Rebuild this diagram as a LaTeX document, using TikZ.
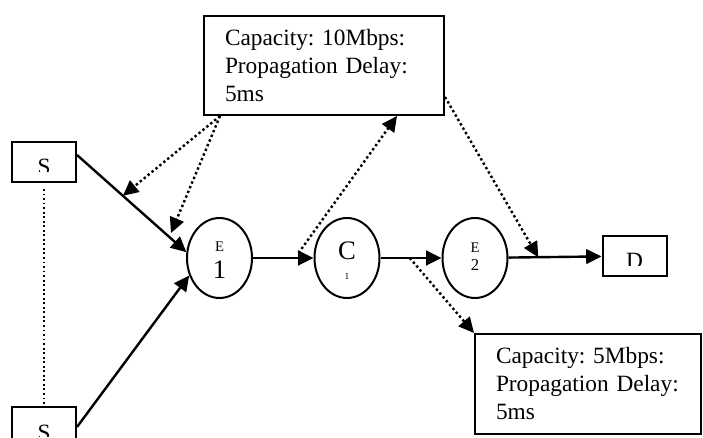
\documentclass[tikz,border=0pt]{standalone}
\usepackage{fontspec}
\setmainfont{Liberation Serif}
\frenchspacing
\usetikzlibrary{arrows.meta, shapes.geometric, calc}

\tikzset{
  hop/.style={draw, ellipse, line width=1.5pt, minimum width=48.75pt, minimum height=60pt, inner sep=0pt},
  endbox/.style={draw, line width=1.5pt, minimum width=48pt, minimum height=30pt, inner sep=0pt,
    path picture={
      \clip ([yshift=7.9pt]path picture bounding box.south west) rectangle (path picture bounding box.north east);
      \node[anchor=base, inner sep=0pt, font=\fontsize{17.5}{21}\selectfont]
        at ([yshift=5.25pt]path picture bounding box.south) {#1};
    }},
  infobox/.style={draw, line width=1.5pt, anchor=north west, align=left, inner xsep=15.75pt,
    font=\fontsize{17.5}{21}\selectfont},
  link/.style={line width=1.8pt, -{Triangle[length=11.5pt, width=11pt]}},
  note/.style={line width=1.8pt, dotted, -{Triangle[length=11.5pt, width=11pt]}}
}

\begin{document}
\begin{tikzpicture}[x=0.75pt, y=-0.75pt]
  \useasboundingbox (0,0) rectangle (703,438);
  \clip (0,0) rectangle (703,438);

  % sources and destination
  \node[endbox=S] (s1) at (44,162) {};
  \node[endbox=S] (s2) at (44,427) {};
  \node[endbox=D] (d) at (634.5,256) {};
  \draw[dotted, line width=1.4pt] ([yshift=-4.5pt]s1.south) -- (s2.north);

  % edge and core routers
  \node[hop] (e1) at (219.5,258) {};
  \node[hop] (c1) at (347,258) {};
  \node[hop] (e2) at (475,258) {};
  \node[font=\fontsize{11}{13}\selectfont] at ($(e1)+(0,-11)$) {E};
  \node[font=\fontsize{20}{22}\selectfont] at ($(e1)+(0,12)$) {1};
  \node[font=\fontsize{20}{22}\selectfont] at ($(c1)+(0,-7)$) {C};
  \node[font=\fontsize{7}{8}\selectfont] at ($(c1)+(0,18)$) {1};
  \node[font=\fontsize{11}{13}\selectfont] at ($(e2)+(0,-10)$) {E};
  \node[font=\fontsize{12.5}{15}\selectfont] at ($(e2)+(0,7)$) {2};

  % link parameters
  \node[infobox, text width=148.5pt, minimum height=74.25pt] (link1) at (203,15)
    {Capacity: 10Mbps:\\Propagation Delay:\\5ms};
  \node[infobox, text width=138pt, minimum height=75pt] (link2) at (474,333)
    {Capacity: 5Mbps:\\Propagation Delay:\\5ms};

  % solid links
  \draw[link] (s1.12) -- (e1.170);
  \draw[link] (s2.east) -- (e1.210);
  \draw[link] (e1) -- (c1);
  \draw[link] (c1) -- (e2);
  \draw[link] (e2) -- (d);

  % dotted pointers
  \path (s1.12) -- (e1.170) coordinate[pos=0.42] (on1);
  \path (e2.east) -- (d.west) coordinate[pos=0.32] (on2);
  \path (c1.east) -- (e2.west) coordinate[pos=0.48] (on3);
  \coordinate (from1) at ([xshift=12.75pt]link1.south west);
  \coordinate (near1) at ([shift={(-15,-25)}]e1.west);
  \coordinate (c1left) at ([shift={(-15,-5)}]c1.west);
  \coordinate (to1) at ([xshift=-36pt]link1.south east);
  \coordinate (from2) at ([yshift=14.25pt]link1.south east);

  \draw[note] (from1) -- (on1);
  \draw[note] (from1) -- (near1);
  \draw[note] (c1left) -- (to1);
  \draw[note] (from2) -- (on2);
  \draw[note] (on3) -- (link2.north west);
\end{tikzpicture}
\end{document}
